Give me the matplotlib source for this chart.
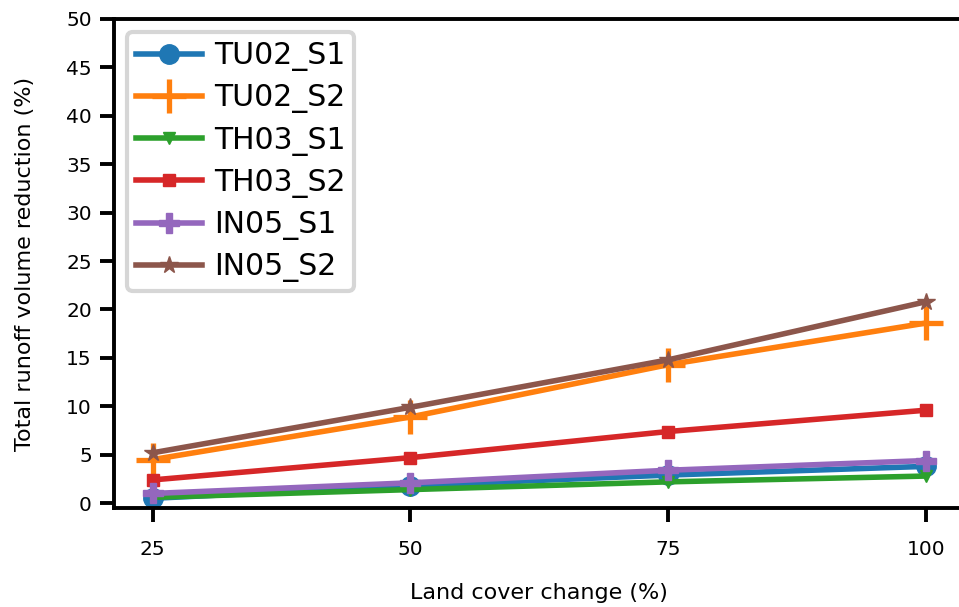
import matplotlib
matplotlib.use("Agg")
import matplotlib.pyplot as plt

plt.rcParams["savefig.bbox"] = "standard"

land_cover = [25, 50, 75, 100]
tu02_s1 = [0.5, 1.8, 2.9, 3.8]
tu02_s2 = [4.5, 8.9, 14.3, 18.6]
th03_s1 = [0.6, 1.4, 2.2, 2.8]
th03_s2 = [2.4, 4.7, 7.4, 9.6]
in05_s1 = [1.0, 2.1, 3.4, 4.4]
in05_s2 = [5.2, 9.9, 14.8, 20.8]

labels = ["TU02_S1", "TU02_S2", "TH03_S1", "TH03_S2", "IN05_S1", "IN05_S2"]
series = [tu02_s1, tu02_s2, th03_s1, th03_s2, in05_s1, in05_s2]
colors = ["#1f77b4", "#ff7f0e", "#2ca02c", "#d62728", "#9467bd", "#8c564b"]
markers = ["o", "+", "v", "s", "P", "*"]
msizes = [14, 25, 9, 9, 14, 13]
mews = [1, 3.8, 1, 1, 1, 1]

fig = plt.figure(figsize=(9.59, 6.07), dpi=100)
W, H = 959, 607
ax = fig.add_axes([114 / W, (H - 508) / H, (964.6 - 114) / W, (508 - 19) / H])

for y, lab, c, m, ms, mew in zip(series, labels, colors, markers, msizes, mews):
    ax.plot(land_cover, y, color=c, marker=m, markersize=ms, markeredgewidth=mew,
            linewidth=4.0, label=lab)

ax.set_xlim(21.25, 103.75)
ax.set_ylim(-0.5, 50)
ax.set_xticks(land_cover)
ax.set_yticks(range(0, 51, 5))
for s in ax.spines.values():
    s.set_linewidth(2.8)
ax.spines["right"].set_visible(False)
ax.tick_params(axis="both", labelsize=14.5, length=10, width=2.8)
ax.tick_params(axis="x", pad=13)
ax.tick_params(axis="y", pad=6)
ax.set_xlabel("Land cover change (%)", fontsize=16, labelpad=17.5)
ax.set_ylabel("Total runoff volume reduction (%)", fontsize=16, labelpad=22)

leg = ax.legend(loc="upper left", fontsize=21.5, frameon=True, fancybox=True,
                borderpad=0.3, labelspacing=0.41, handlelength=2.2,
                handletextpad=0.4, borderaxespad=0.44)
leg.get_frame().set_linewidth(3)
leg.get_frame().set_edgecolor("#cccccc")

fig.savefig("out.png", dpi=100, bbox_inches=None)
